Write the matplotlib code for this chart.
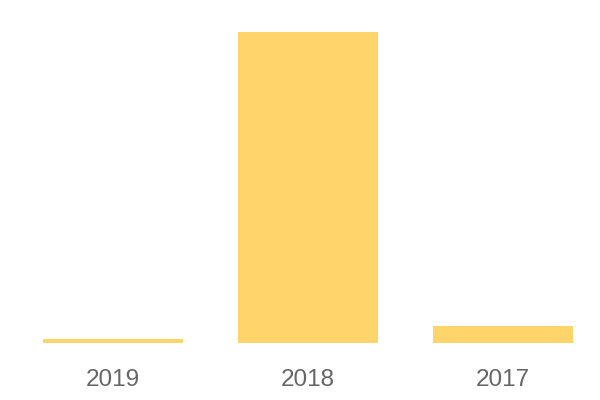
import matplotlib
matplotlib.use("Agg")
import matplotlib.pyplot as plt

years = ["2019", "2018", "2017"]
values = [1.3, 100, 5.5]

fig = plt.figure(figsize=(6, 4), dpi=100)
ax = fig.add_axes([15 / 600, 57 / 400, 585 / 600, 311 / 400])

ax.bar(range(len(years)), values, width=140 / 195, color="#FED46B")
ax.set_xlim(-0.5, len(years) - 0.5)
ax.set_ylim(0, max(values))

ax.set_xticks(range(len(years)))
ax.set_xticklabels(years, fontsize=17.5, color="#666666", family="Liberation Sans")
ax.tick_params(axis="x", length=0, pad=19)
ax.set_yticks([])
for s in ax.spines.values():
    s.set_visible(False)

fig.savefig("out.png", dpi=100)
